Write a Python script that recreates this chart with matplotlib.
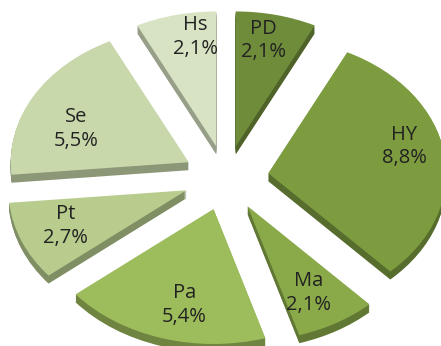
import matplotlib
matplotlib.use("Agg")
import matplotlib.pyplot as plt
import matplotlib.colors as mcolors
import numpy as np

# Data
categories = ["PD", "HY", "Ma", "Pa", "Pt", "Se", "Hs"]
values = [2.1, 8.8, 2.1, 5.4, 2.7, 5.5, 2.1]
value_labels = ["2,1%", "8,8%", "2,1%", "5,4%", "2,7%", "5,5%", "2,1%"]
colors = ["#6f8c3a", "#7d9c40", "#8aaa4a", "#9dbc5b", "#b7cc8d", "#c8d8ab", "#d8e3c4"]

# label placement style (radius, angle offset in degrees)
label_r = [0.80, 0.79, 0.73, 0.73, 0.73, 0.68, 0.82]
label_dtheta = [2, 6, -2, 4, -1, 8, -5]

plt.rcParams['font.family'] = ['Open Sans', 'DejaVu Sans']

W, H = 441, 346
fig = plt.figure(figsize=(W / 100, H / 100), dpi=100)
ax = fig.add_axes([0, 0, 1, 1])

expl = 0.24
explode = [expl] * len(values)
cx, cy, a, b = 226, 178, 178, 135
depth = 8

def darker(c, f):
    r, g, bb = mcolors.to_rgb(c)
    return (r * f, g * f, bb * f)

side_colors = [darker(c, 0.7) for c in colors]

for k in range(depth, 0, -1):
    ax.pie(values, colors=side_colors, explode=explode, startangle=90,
           counterclock=False, center=(0, -k / b), radius=1.0,
           wedgeprops=dict(linewidth=0))

wedges, _ = ax.pie(values, colors=colors, explode=explode, startangle=90,
                   counterclock=False, radius=1.0,
                   wedgeprops=dict(linewidth=0))

for w, c, v, r, dt in zip(wedges, categories, value_labels, label_r, label_dtheta):
    mid = np.deg2rad((w.theta1 + w.theta2) / 2)
    ox, oy = w.center
    th = mid + np.deg2rad(dt)
    ax.text(ox + r * np.cos(th), oy + r * np.sin(th), f"{c}\n{v}",
            ha="center", va="center", fontsize=14.5, color="#222222",
            linespacing=1.25)

ax.set_aspect("auto")
ax.set_xlim((0 - cx) / a, (W - cx) / a)
ax.set_ylim((cy - H) / b, cy / b)
ax.axis("off")

fig.savefig("out.png", dpi=100)
